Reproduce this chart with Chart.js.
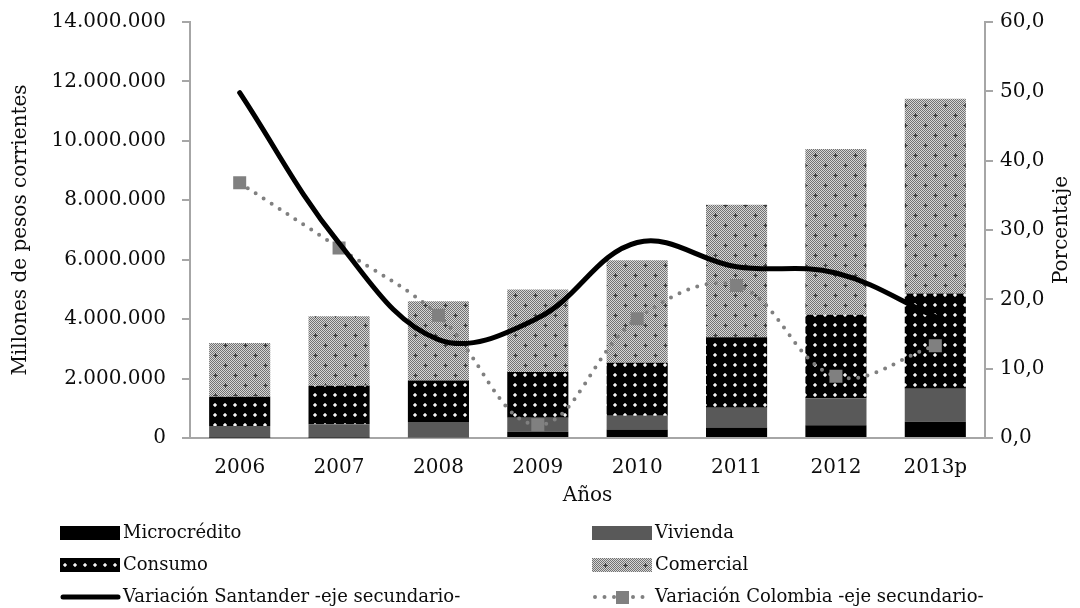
<!DOCTYPE html>
<html><head><meta charset="utf-8">
<script src="https://cdn.jsdelivr.net/npm/chart.js@4/dist/chart.umd.min.js"></script>
<style>html,body{margin:0;padding:0;background:#fff;}#wrap{width:1080px;height:608px;position:relative}</style>
</head><body><div id="wrap"><canvas id="c" width="1080" height="608"></canvas></div>
<script>
const categories = ['2006','2007','2008','2009','2010','2011','2012','2013p'];
const microcredito = [15000, 20000, 25000, 210000, 290000, 350000, 430000, 550000];
const vivienda = [390000, 440000, 510000, 470000, 460000, 670000, 910000, 1110000];
const consumo = [980000, 1300000, 1400000, 1540000, 1780000, 2370000, 2810000, 3200000];
const comercial = [1810000, 2340000, 2670000, 2780000, 3450000, 4460000, 5580000, 6560000];
const variacionSantander = [49.8, 28.1, 14.2, 17.3, 28.2, 24.7, 23.8, 17.5];
const variacionColombia = [36.8, 27.4, 17.7, 1.9, 17.2, 22.0, 8.9, 13.3];
const leftMax = 14000000, leftStep = 2000000;
const rightMax = 60, rightStep = 10;

const FONT = '"DejaVu Serif", "Liberation Serif", serif';
const TXT = '#0d0d0d';

function makePattern(w, h, draw) {
  const c = document.createElement('canvas'); c.width = w; c.height = h;
  const x = c.getContext('2d'); draw(x);
  return document.getElementById('c').getContext('2d').createPattern(c, 'repeat');
}
const patConsumo = makePattern(10, 10, x => {
  x.fillStyle = '#000'; x.fillRect(0, 0, 10, 10);
  x.fillStyle = '#a0a0a0'; x.fillRect(3, 4, 4, 2); x.fillRect(4, 3, 2, 4);
  x.fillStyle = '#f4f4f4'; x.fillRect(4, 4, 2, 2);
});
const patComercial = makePattern(20, 20, x => {
  for (let i = 0; i < 20; i++) for (let j = 0; j < 20; j++) {
    x.fillStyle = ((i + j) % 2 === 0) ? '#727272' : '#d6d6d6';
    x.fillRect(i, j, 1, 1);
  }
  x.fillStyle = '#3e3e3e';
  [[5,5],[15,15]].forEach(([cx, cy]) => { x.fillRect(cx - 2, cy, 5, 1); x.fillRect(cx, cy - 2, 1, 5); });
});

const legendItems = [
  {text: 'Microcrédito', kind: 'box', fill: '#000'},
  {text: 'Vivienda', kind: 'box', fill: '#595959'},
  {text: 'Consumo', kind: 'box', fill: patConsumo},
  {text: 'Comercial', kind: 'box', fill: patComercial},
  {text: 'Variación Santander -eje secundario-', kind: 'line'},
  {text: 'Variación Colombia -eje secundario-', kind: 'dots'}
];

const extras = {
  id: 'extras',
  afterDraw(chart) {
    const ctx = chart.ctx;
    ctx.save();
    ctx.font = '20px ' + FONT; ctx.fillStyle = TXT;
    ctx.textAlign = 'center'; ctx.textBaseline = 'middle';
    ctx.translate(1062, (chart.chartArea.top + chart.chartArea.bottom) / 2);
    ctx.rotate(-Math.PI / 2);
    ctx.fillText('Porcentaje', 0, 0);
    ctx.restore();
    ctx.save();
    ctx.font = '18px ' + FONT; ctx.textBaseline = 'middle'; ctx.textAlign = 'left';
    const colX = [60, 592], rowY = [533, 565, 597];
    legendItems.forEach((it, i) => {
      const bx = colX[i % 2], cy = rowY[Math.floor(i / 2)];
      if (it.kind === 'box') {
        ctx.fillStyle = it.fill; ctx.fillRect(bx, cy - 7, 60, 14);
      } else if (it.kind === 'line') {
        ctx.strokeStyle = '#000'; ctx.lineWidth = 5; ctx.lineCap = 'round';
        ctx.beginPath(); ctx.moveTo(bx + 3, cy); ctx.lineTo(bx + 58, cy); ctx.stroke();
      } else {
        ctx.strokeStyle = '#808080'; ctx.lineWidth = 4; ctx.lineCap = 'round';
        ctx.setLineDash([0, 9.5]);
        ctx.beginPath(); ctx.moveTo(bx + 3, cy); ctx.lineTo(bx + 58, cy); ctx.stroke();
        ctx.setLineDash([]);
        ctx.fillStyle = '#808080'; ctx.fillRect(bx + 24, cy - 6, 13, 13);
      }
      ctx.fillStyle = TXT; ctx.fillText(it.text, bx + 63, cy);
    });
    ctx.restore();
  }
};

const tickFont = {family: FONT, size: 20};
function fixV(width) {
  return s => { s.width = width; s.paddingTop = 0; s.paddingBottom = 0; };
}
new Chart(document.getElementById('c'), {
  data: {
    labels: categories,
    datasets: [
      {type: 'line', label: 'Variación Santander -eje secundario-', data: variacionSantander, yAxisID: 'y1', order: 0,
       borderColor: '#000', borderWidth: 5, tension: 0.38, pointRadius: 0, borderCapStyle: 'round', fill: false},
      {type: 'line', label: 'Variación Colombia -eje secundario-', data: variacionColombia, yAxisID: 'y1', order: 1,
       borderColor: '#808080', borderWidth: 4, borderDash: [0, 9.5], borderCapStyle: 'round', tension: 0.38,
       pointStyle: 'rect', pointRadius: 9.2, pointBackgroundColor: '#808080', pointBorderWidth: 0, fill: false},
      {type: 'bar', label: 'Microcrédito', data: microcredito, backgroundColor: '#000', yAxisID: 'y', order: 2},
      {type: 'bar', label: 'Vivienda', data: vivienda, backgroundColor: '#595959', yAxisID: 'y', order: 2},
      {type: 'bar', label: 'Consumo', data: consumo, backgroundColor: patConsumo, yAxisID: 'y', order: 2},
      {type: 'bar', label: 'Comercial', data: comercial, backgroundColor: patComercial, yAxisID: 'y', order: 2}
    ]
  },
  options: {
    responsive: false, animation: false, devicePixelRatio: 1,
    layout: {padding: {top: 22, left: 0, right: 0, bottom: 0}},
    datasets: {bar: {categoryPercentage: 1, barPercentage: 0.615}},
    plugins: {legend: {display: false}, tooltip: {enabled: false}},
    scales: {
      x: {
        stacked: true,
        grid: {display: false, drawTicks: false},
        border: {display: true, color: '#a6a6a6', width: 2},
        ticks: {font: tickFont, color: TXT, padding: 18, maxRotation: 0},
        title: {display: true, text: 'Años', font: tickFont, color: TXT, padding: {top: 0, bottom: 100}},
        afterFit: s => { s.height = 170; s.paddingLeft = 0; s.paddingRight = 0; }
      },
      y: {
        stacked: true, position: 'left', min: 0, max: leftMax,
        grid: {drawOnChartArea: false, drawTicks: true, tickLength: 8, color: '#a6a6a6', lineWidth: 2},
        border: {display: true, color: '#a6a6a6', width: 2},
        ticks: {stepSize: leftStep, font: tickFont, color: TXT, padding: 16,
                callback: v => String(v).replace(/\B(?=(\d{3})+(?!\d))/g, '.')},
        title: {display: true, text: 'Millones de pesos corrientes', font: tickFont, color: TXT, padding: {top: 9, bottom: 0}},
        afterFit: fixV(190)
      },
      y1: {
        position: 'right', min: 0, max: rightMax,
        grid: {drawOnChartArea: false, drawTicks: true, tickLength: 8, color: '#a6a6a6', lineWidth: 2},
        border: {display: true, color: '#a6a6a6', width: 2},
        ticks: {stepSize: rightStep, font: tickFont, color: TXT, padding: 7,
                callback: v => v.toFixed(1).replace('.', ',')},
        afterFit: fixV(95)
      }
    }
  },
  plugins: [extras]
});
</script></body></html>
